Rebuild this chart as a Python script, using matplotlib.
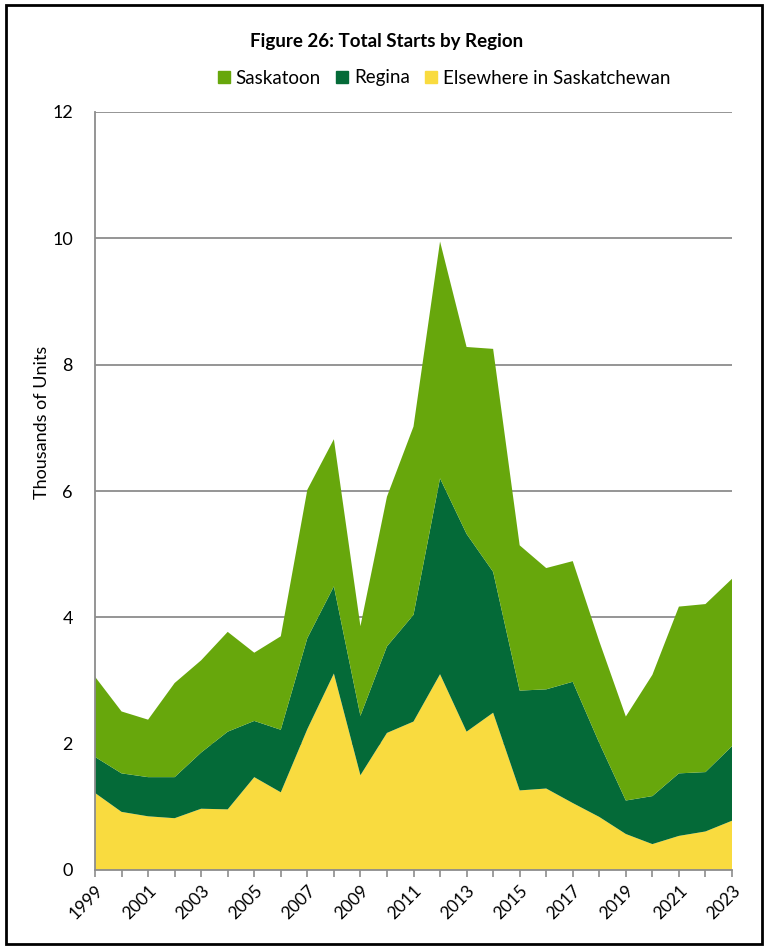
import matplotlib
matplotlib.use("Agg")
import matplotlib.pyplot as plt
from matplotlib.patches import Rectangle, Patch

plt.rcParams['font.family'] = ['Lato', 'DejaVu Sans']

years = list(range(1999, 2024))
elsewhere = [1.22, 0.92, 0.85, 0.82, 0.97, 0.96, 1.47, 1.23, 2.23, 3.11, 1.50, 2.17, 2.35,
             3.10, 2.19, 2.49, 1.26, 1.29, 1.06, 0.84, 0.57, 0.41, 0.54, 0.61, 0.78]
regina = [0.57, 0.61, 0.62, 0.65, 0.89, 1.23, 0.89, 0.99, 1.44, 1.38, 0.94, 1.37, 1.69,
          3.10, 3.13, 2.23, 1.58, 1.57, 1.92, 1.17, 0.53, 0.76, 0.99, 0.94, 1.18]
saskatoon = [1.27, 0.98, 0.91, 1.49, 1.46, 1.58, 1.08, 1.48, 2.35, 2.33, 1.42, 2.37, 2.98,
             3.75, 2.96, 3.53, 2.30, 1.92, 1.91, 1.61, 1.33, 1.92, 2.64, 2.66, 2.65]

c_sask = '#67A70C'
c_reg = '#046A38'
c_else = '#F9DB3F'
grid_c = '#8C8C8C'

fig = plt.figure(figsize=(7.68, 9.49), dpi=100)
ax = fig.add_axes([95/768, 1-870/949, (732-95)/768, (870-112)/949])

ax.stackplot(years, elsewhere, regina, saskatoon,
             colors=[c_else, c_reg, c_sask], linewidth=0)

ax.set_xlim(1999, 2023)
ax.set_ylim(0, 12)
ax.set_yticks(range(0, 13, 2))
ax.set_axisbelow(True)
ax.yaxis.grid(True, color=grid_c, linewidth=1.3)
ax.tick_params(axis='y', length=0, labelsize=13, pad=16)

ax.set_xticks(years, minor=True)
ax.set_xticks(years[::2])
ax.set_xticklabels([str(y) for y in years[::2]], rotation=45, ha='right',
                   rotation_mode='anchor', fontsize=12.5)
ax.tick_params(axis='x', which='both', direction='out', length=5, color=grid_c, width=1.2, pad=4)

for s in ['top', 'right']:
    ax.spines[s].set_visible(False)
for s in ['left', 'bottom']:
    ax.spines[s].set_color(grid_c)
    ax.spines[s].set_linewidth(1.3)
    ax.spines[s].set_zorder(3)

ax.set_ylabel('Thousands of Units', fontsize=13)
ax.yaxis.set_label_coords(-0.071, 0.59)

fig.text(387/768, 1-41/949, 'Figure 26: Total Starts by Region', ha='center', va='center',
         fontsize=13.5, fontweight='bold')

handles = [Patch(color=c_sask, label='Saskatoon'),
           Patch(color=c_reg, label='Regina'),
           Patch(color=c_else, label='Elsewhere in Saskatchewan')]
fig.legend(handles=handles, loc='center', bbox_to_anchor=(444/768, 1-78/949), ncol=3,
           frameon=False, fontsize=13.5, handlelength=0.65, handleheight=0.65,
           handletextpad=0.3, columnspacing=0.8)

fig.patches.append(Rectangle((6/768, 5/949), 756/768, 939/949, transform=fig.transFigure,
                             fill=False, edgecolor='black', linewidth=2))

fig.savefig('out.png', dpi=100)
